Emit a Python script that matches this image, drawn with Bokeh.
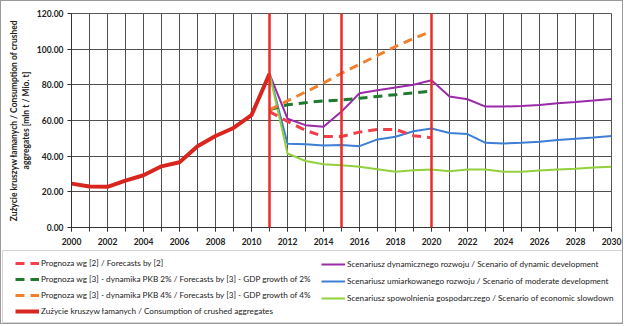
from bokeh.plotting import figure
from bokeh.models import (Range1d, FixedTicker, PrintfTickFormatter, Span, Legend, LegendItem)
from bokeh.embed import file_html
from bokeh.resources import INLINE

# ---------------- data ----------------
years_hist = [2000, 2001, 2002, 2003, 2004, 2005, 2006, 2007, 2008, 2009, 2010, 2011]
consumption = [24.6, 23.0, 22.8, 26.3, 29.3, 34.3, 36.6, 45.6, 51.3, 55.8, 63.0, 86.2]

years_fc = [2011, 2012, 2013, 2014, 2015, 2016, 2017, 2018, 2019, 2020]
forecast_2 = [65.0, 59.5, 54.5, 51.0, 51.0, 53.5, 55.0, 55.0, 51.5, 50.3]
gdp_2pct = [66.0, 68.8, 70.0, 71.0, 71.5, 72.5, 73.5, 74.5, 75.5, 76.5]
gdp_4pct = [66.0, 71.0, 76.0, 81.0, 86.5, 91.5, 96.5, 101.5, 106.0, 110.0]

years_sc = list(range(2011, 2031))
dynamic = [86.2, 61.0, 57.4, 56.5, 65.0, 75.3, 77.0, 78.5, 80.0, 82.6,
           73.5, 71.9, 67.8, 67.8, 68.2, 68.7, 69.7, 70.4, 71.2, 72.1]
moderate = [86.2, 47.0, 46.7, 46.0, 46.2, 45.6, 49.4, 50.9, 54.0, 55.5,
            53.0, 52.4, 47.5, 47.1, 47.5, 48.1, 49.0, 49.8, 50.5, 51.3]
slowdown = [86.2, 41.5, 37.3, 35.5, 34.9, 34.0, 32.7, 31.2, 32.1, 32.5,
            31.5, 32.5, 32.5, 31.3, 31.3, 31.9, 32.5, 33.0, 33.6, 34.0]

event_years = [2011, 2015, 2020]
x_labels_years = list(range(2000, 2031, 2))
x_all_years = list(range(2000, 2031))
y_ticks = [0, 20, 40, 60, 80, 100, 120]

labels_left = [
    "Prognoza wg [2] / Forecasts by [2]",
    "Prognoza wg [3] - dynamika PKB 2% / Forecasts by [3] - GDP growth of 2%",
    "Prognoza wg [3] - dynamika PKB 4% / Forecasts by [3] - GDP growth of 4%",
    "Zużycie kruszyw łamanych / Consumption of crushed aggregates",
]
labels_right = [
    "Scenariusz dynamicznego rozwoju / Scenario of dynamic development",
    "Scenariusz umiarkowanego rozwoju / Scenario of moderate development",
    "Scenariusz spowolnienia gospodarczego / Scenario of economic slowdown",
]
y_title = "Zużycie kruszyw łamanych / Consumption of crushed\naggregates [mln t / Mio. t]"

FONT = "Lato"
BORDER = "1px solid #9a9a9a"

# style of each series (shared by plot and legend)
st_dyn = dict(line_color="#9a2aa8", line_width=2)
st_mod = dict(line_color="#3c7fd4", line_width=2)
st_slow = dict(line_color="#92d03c", line_width=2)
st_f2 = dict(line_color="#f0404c", line_width=3, line_dash="9 6")
st_g2 = dict(line_color="#1e7a2e", line_width=3, line_dash="9 6")
st_g4 = dict(line_color="#f0802e", line_width=3, line_dash="9 6")
st_cons = dict(line_color="#d8261e", line_width=4)

# ---------------- main chart ----------------
p = figure(width=623, height=248, output_backend="svg", toolbar_location=None,
           x_range=Range1d(2000, 2030), y_range=Range1d(0, 120))
p.styles = {"border-top": BORDER, "border-left": BORDER, "border-right": BORDER}
p.min_border_left = 70
p.min_border_right = 13
p.min_border_top = 12
p.min_border_bottom = 22
p.background_fill_color = "white"
p.border_fill_color = "white"
p.outline_line_color = "#555555"
p.outline_line_width = 1

p.xgrid.ticker = FixedTicker(ticks=x_all_years)
p.ygrid.ticker = FixedTicker(ticks=y_ticks)
p.xgrid.grid_line_color = "#505050"
p.ygrid.grid_line_color = "#505050"

p.xaxis.ticker = FixedTicker(ticks=x_labels_years, minor_ticks=x_all_years)
p.yaxis.ticker = FixedTicker(ticks=y_ticks)
p.yaxis.formatter = PrintfTickFormatter(format="%.2f")
for ax in (p.xaxis[0], p.yaxis[0]):
    ax.axis_line_color = "#333333"
    ax.major_tick_line_color = "#333333"
    ax.minor_tick_line_color = "#333333"
    ax.major_tick_out = 4
    ax.major_tick_in = 0
    ax.minor_tick_out = 4
    ax.minor_tick_in = 0
    ax.major_label_text_font = FONT
    ax.major_label_text_font_style = "bold"
    ax.major_label_text_font_size = "8.5px"
    ax.major_label_text_color = "#222222"
p.xaxis.major_label_standoff = 6
p.yaxis.major_label_standoff = 4
p.yaxis.axis_label = y_title
p.yaxis.axis_label_text_font = FONT
p.yaxis.axis_label_text_font_style = "bold"
p.yaxis.axis_label_text_font_size = "8.5px"
p.yaxis.axis_label_text_color = "#222222"
p.yaxis.axis_label_standoff = 3

for yr in event_years:
    p.add_layout(Span(location=yr, dimension="height", line_color="#ee2a24", line_width=2.5))

p.line(years_sc, dynamic, **st_dyn)
p.line(years_sc, moderate, **st_mod)
p.line(years_sc, slowdown, **st_slow)
p.line(years_fc, forecast_2, **st_f2)
p.line(years_fc, gdp_2pct, **st_g2)
p.line(years_fc, gdp_4pct, **st_g4)
p.line(years_hist, consumption, **st_cons)

# ---------------- legend panel (separate root, so its frame spans the full width) ----------------
lg = figure(width=623, height=76, output_backend="svg", toolbar_location=None,
            x_range=Range1d(0, 1), y_range=Range1d(0, 1))
lg.styles = {"border-bottom": BORDER, "border-left": BORDER, "border-right": BORDER}
lg.axis.visible = False
lg.grid.visible = False
lg.min_border_left = 1
lg.min_border_right = 1
lg.min_border_top = 2
lg.min_border_bottom = 2
lg.outline_line_color = "#d4d4d4"
lg.background_fill_color = "white"
lg.border_fill_color = "white"

# legend proxies: same series, outside this panel's ranges so only their legend glyphs show
px_f2 = lg.line(years_fc, forecast_2, **st_f2)
px_g2 = lg.line(years_fc, gdp_2pct, **st_g2)
px_g4 = lg.line(years_fc, gdp_4pct, **st_g4)
px_cons = lg.line(years_hist, consumption, **st_cons)
px_dyn = lg.line(years_sc, dynamic, **st_dyn)
px_mod = lg.line(years_sc, moderate, **st_mod)
px_slow = lg.line(years_sc, slowdown, **st_slow)

leg_left = Legend(items=[LegendItem(label=labels_left[0], renderers=[px_f2]),
                         LegendItem(label=labels_left[1], renderers=[px_g2]),
                         LegendItem(label=labels_left[2], renderers=[px_g4]),
                         LegendItem(label=labels_left[3], renderers=[px_cons])],
                  location=(13, 5), spacing=4)
leg_right = Legend(items=[LegendItem(label=labels_right[0], renderers=[px_dyn]),
                          LegendItem(label=labels_right[1], renderers=[px_mod]),
                          LegendItem(label=labels_right[2], renderers=[px_slow])],
                   location=(319, 18), spacing=5)
for L in (leg_left, leg_right):
    L.margin = 0
    L.padding = 0
    L.glyph_width = 24
    L.glyph_height = 12
    L.label_height = 12
    L.label_standoff = 2
    L.label_text_font = FONT
    L.label_text_font_size = "8.2px"
    L.label_text_color = "#222222"
    L.background_fill_alpha = 0
    L.border_line_color = None
    lg.add_layout(L)

open("out.html", "w").write(file_html([p, lg], INLINE))
